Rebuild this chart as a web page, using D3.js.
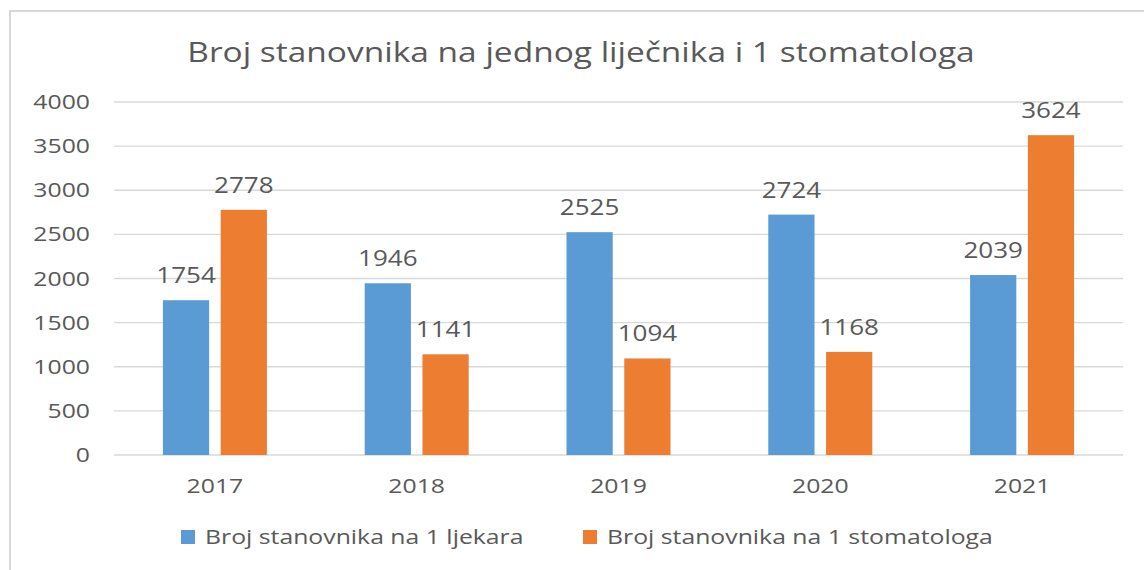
<!DOCTYPE html>
<html>
<head>
<meta charset="utf-8">
<script src="https://cdn.jsdelivr.net/npm/d3@7"></script>
<style>
  body { margin: 0; background: #fff; }
  text { font-family: "Open Sans", sans-serif; fill: #595959; }
</style>
</head>
<body>
<div id="chart"></div>
<script>
// data
let years = ["2017", "2018", "2019", "2020", "2021"];
let series = ["Broj stanovnika na 1 ljekara", "Broj stanovnika na 1 stomatologa"];
let ljekar = [1754, 1946, 2525, 2724, 2039];
let stomatolog = [2778, 1141, 1094, 1168, 3624];
let yTicks = [0, 500, 1000, 1500, 2000, 2500, 3000, 3500, 4000];
let colors = ["#5b9bd5", "#ed7d31"];

let w = 1144, h = 570;
// the source picture is stretched sideways, so text gets widened too
let stretch = 1.24;

let svg = d3.select("#chart").append("svg")
    .attr("width", w)
    .attr("height", h);

// place a text at (x, y) and widen it
function place(sel, xf, yf) {
    sel.attr("transform", (d, i) => {
        let px = typeof xf === "function" ? xf(d, i) : xf;
        let py = typeof yf === "function" ? yf(d, i) : yf;
        return "translate(" + px + "," + py + ") scale(" + stretch + ",1)";
    });
}

// outer frame, cut off at right and bottom
svg.append("rect")
    .attr("x", 10).attr("y", 11)
    .attr("width", 1200).attr("height", 600)
    .attr("fill", "none")
    .attr("stroke", "#d9d9d9")
    .attr("stroke-width", 2);

// title
let title = svg.append("text")
    .attr("text-anchor", "middle")
    .style("font-size", "27px")
    .text("Broj stanovnika na jednog liječnika i 1 stomatologa");
place(title, 581, 62);

// plot area
let plotLeft = 114, plotRight = 1123, plotTop = 102, plotBottom = 455;

let x = d3.scaleBand().domain(years).range([plotLeft, plotRight]);
let xInner = d3.scaleBand().domain([0, 1]).range([-52, 52]).paddingInner(0.2);
let y = d3.scaleLinear().domain([0, 4000]).range([plotBottom, plotTop]);

// gridlines
svg.append("g").selectAll("line")
    .data(yTicks)
    .enter()
    .append("line")
    .attr("x1", plotLeft).attr("x2", plotRight)
    .attr("y1", d => y(d)).attr("y2", d => y(d))
    .attr("stroke", "#d9d9d9")
    .attr("stroke-width", 1.3);

// y tick labels
let tickLabels = svg.append("g").selectAll("text")
    .data(yTicks)
    .enter()
    .append("text")
    .attr("text-anchor", "end")
    .style("font-size", "20px")
    .text(d => d);
place(tickLabels, 90, d => y(d) + 7);

// bars
let rows = [];
years.forEach((yr, i) => {
    rows.push({ year: yr, s: 0, v: ljekar[i] });
    rows.push({ year: yr, s: 1, v: stomatolog[i] });
});

svg.append("g").selectAll("rect")
    .data(rows)
    .enter()
    .append("rect")
    .attr("x", d => x(d.year) + x.bandwidth() / 2 + xInner(d.s))
    .attr("y", d => y(d.v))
    .attr("width", xInner.bandwidth())
    .attr("height", d => plotBottom - y(d.v))
    .attr("fill", d => colors[d.s]);

// value labels
let valueLabels = svg.append("g").selectAll("text")
    .data(rows)
    .enter()
    .append("text")
    .attr("text-anchor", "middle")
    .style("font-size", "21px")
    .text(d => d.v);
place(valueLabels,
    d => x(d.year) + x.bandwidth() / 2 + xInner(d.s) + xInner.bandwidth() / 2,
    d => y(d.v) - 17);

// category labels
let catLabels = svg.append("g").selectAll("text")
    .data(years)
    .enter()
    .append("text")
    .attr("text-anchor", "middle")
    .style("font-size", "20px")
    .text(d => d);
place(catLabels, d => x(d) + x.bandwidth() / 2, 493);

// legend
let legendX = [181, 583];
let legend = svg.append("g").selectAll("g")
    .data(series)
    .enter()
    .append("g")
    .attr("transform", (d, i) => "translate(" + legendX[i] + ",530)");
legend.append("rect")
    .attr("width", 14).attr("height", 14)
    .attr("fill", (d, i) => colors[i]);
let legendText = legend.append("text")
    .style("font-size", "20px")
    .text(d => d);
place(legendText, 24, 14);
</script>
</body>
</html>
